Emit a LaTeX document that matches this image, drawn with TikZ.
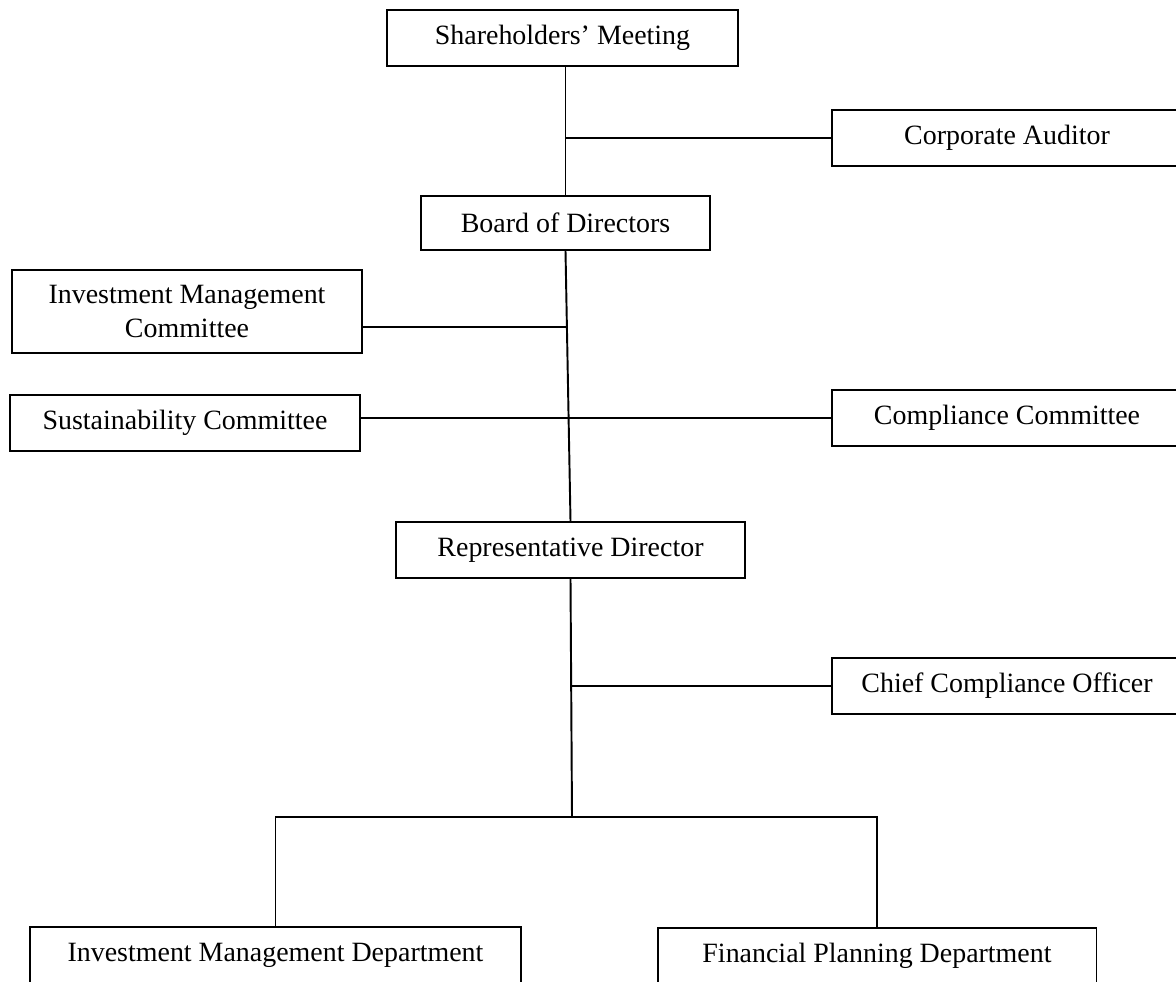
\documentclass[tikz,border=0pt]{standalone}
\usepackage{fontspec}
\setmainfont{Liberation Serif}
\usepackage{tikz}
\usetikzlibrary{positioning,calc}

\tikzset{
    orgbox/.style={draw, line width=1.1pt, minimum height=1.12cm, align=center,
        inner sep=2pt, font=\fontsize{15.9}{19}\selectfont},
    link/.style={line width=1.1pt}
}

\begin{document}
\begin{tikzpicture}[x=0.02cm, y=-0.02cm]
    \useasboundingbox (0,0) rectangle (1176,982);

    % upper part
    \node[orgbox, minimum width=7.02cm] (sh) at (562.5,38) {Shareholders’ Meeting};
    \node[orgbox, minimum width=7cm] (aud) at (1007,138) {Corporate Auditor};
    \node[orgbox, minimum width=5.78cm, minimum height=1.08cm] (bod) at (565.5,223) {Board of Directors};

    % committees
    \node[orgbox, minimum width=7cm, minimum height=1.66cm] (imc) at (187,311.5)
        {Investment Management\\Committee};
    \node[orgbox, minimum width=7cm] (sus) at (185,423) {Sustainability Committee};
    \node[orgbox, minimum width=7cm] (cc) at (1007,418) {Compliance Committee};

    % management
    \node[orgbox, minimum width=6.98cm] (rd) at (570.5,550) {Representative Director};
    \node[orgbox, minimum width=7cm] (cco) at (1007,686) {Chief Compliance Officer};

    % departments
    \node[orgbox, minimum width=9.82cm] (imd) at (275.5,955) {Investment Management Department};
    \node[orgbox, minimum width=8.78cm] (fpd) at (877,956) {Financial Planning Department};

    \coordinate (jimc) at (567,327);
    \coordinate (bar) at (572,817);

    % trunk
    \draw[link] (bod.north |- sh.south) -- (bod.north);
    \draw[link] (bod.south) -- (rd.north);
    \draw[link] (rd.south) -- (bar);

    % side branches
    \draw[link] (aud.west) -- (aud.west -| bod.north);
    \draw[link] (imc.east |- jimc) -- (jimc);
    \draw[link] (sus.east |- cc.west) -- (cc.west);
    \draw[link] (cco.west) -- (cco.west -| bar);

    % departments
    \draw[link] (imd.north) |- (bar) -| (fpd.north);
\end{tikzpicture}
\end{document}
